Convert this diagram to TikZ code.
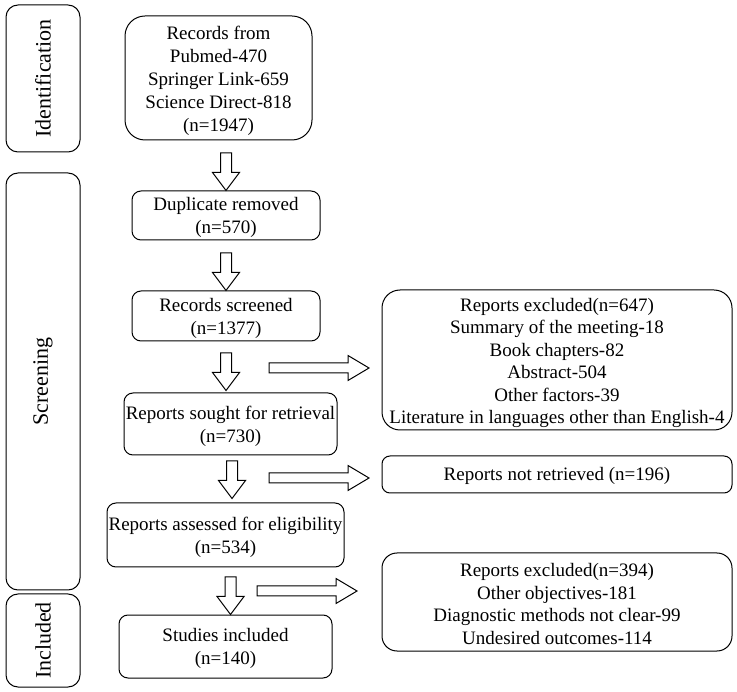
\documentclass[tikz,border=0pt]{standalone}
\usepackage{fontspec}
\setmainfont{Liberation Serif}
\newfontfamily\tnr{Liberation Serif}
\begin{document}
\begin{tikzpicture}[x=1pt,y=-1pt,
  box/.style={draw,line width=1pt,rounded corners=#1,inner sep=0pt},
  box/.default=9pt,
  txt/.style={align=center,inner sep=0pt,font=\tnr\fontsize{19}{23}\selectfont},
  txtr/.style={align=center,inner sep=0pt,font=\tnr\fontsize{19}{22.5}\selectfont},
  side/.style={draw,line width=1pt,rounded corners=12pt,minimum width=74pt,inner sep=0pt},
  sidetext/.style={rotate=90,font=\tnr\fontsize{22}{26}\selectfont},
  blk/.style={draw,line width=1pt,fill=white,line join=miter},
  pics/downblk/.style={code={
    \draw[blk] (-5.5,0) -- (5.5,0) -- (5.5,19.5) -- (13.5,19.5) -- (0,37.5) -- (-13.5,19.5) -- (-5.5,19.5) -- cycle;}},
  pics/rightblk/.style={code={
    \draw[blk] (0,-5) -- (79,-5) -- (79,-12.5) -- (100,0) -- (79,12.5) -- (79,5) -- (0,5) -- cycle;}}
]
\useasboundingbox (0,0) rectangle (737,692);

% side labels
\node[side,minimum height=147pt] (sid) at (43,78.5) {};
\node[sidetext] (sidt) at (sid.center) {Identification};
\node[side,minimum height=417pt] (sscr) at (43,381.5) {};
\node[sidetext] (sscrt) at (sscr.center) {Screening};
\node[side,minimum height=93pt] (sinc) at (43,640.5) {};
\node[sidetext] (sinct) at (sinc.center) {Included};

% main boxes
\node[box=20pt,minimum width=187pt,minimum height=124pt] (rec) at (218.5,78) {};
\node[txt] (rect) at ([yshift=-3pt]rec.center)
  {Records from\\Pubmed-470\\Springer Link-659\\Science Direct-818\\(n=1947)};
\node[box,minimum width=188pt,minimum height=49pt] (dup) at (226,215.5) {};
\node[txt] (dupt) at ([yshift=-2pt]dup.center) {Duplicate removed\\(n=570)};
\node[box,minimum width=188pt,minimum height=50pt] (scr) at (226,316) {};
\node[txt] (scrt) at ([yshift=-2pt]scr.center) {Records screened\\(n=1377)};
\node[box,minimum width=213pt,minimum height=62pt] (sought) at (230.5,424) {};
\node[txt] (soughtt) at ([yshift=-2pt]sought.center) {Reports sought for retrieval\\(n=730)};
\node[box,minimum width=237pt,minimum height=64pt] (assess) at (225.5,535) {};
\node[txt] (assesst) at ([yshift=-2pt]assess.center) {Reports assessed for eligibility\\(n=534)};
\node[box,minimum width=213pt,minimum height=63pt] (incl) at (225.5,646.5) {};
\node[txt] (inclt) at ([yshift=-2pt]incl.center) {Studies included\\(n=140)};

% right boxes
\node[box=18pt,minimum width=350pt,minimum height=140pt] (ex1) at (557,360) {};
\node[txtr] (ex1t) at ([yshift=-3pt]ex1.center)
  {Reports excluded(n=647)\\Summary of the meeting-18\\Book chapters-82\\Abstract-504\\Other factors-39\\Literature in languages other than English-4};
\node[box=8pt,minimum width=350pt,minimum height=37pt] (notr) at (557,474.5) {};
\node[txtr] (notrt) at ([yshift=-1pt]notr.center) {Reports not retrieved (n=196)};
\node[box=15pt,minimum width=350pt,minimum height=98pt] (ex2) at (557,602) {};
\node[txtr] (ex2t) at ([yshift=-2pt]ex2.center)
  {Reports excluded(n=394)\\Other objectives-181\\Diagnostic methods not clear-99\\Undesired outcomes-114};

% block arrows (down)
\pic at (226,153) {downblk};
\pic at (226,253) {downblk};
\pic at (226,353) {downblk};
\pic at (232,461) {downblk};
\pic at (230.5,577) {downblk};

% block arrows (right)
\pic at (269,368) {rightblk};
\pic at (269,478) {rightblk};
\pic at (257,591) {rightblk};
\end{tikzpicture}
\end{document}
